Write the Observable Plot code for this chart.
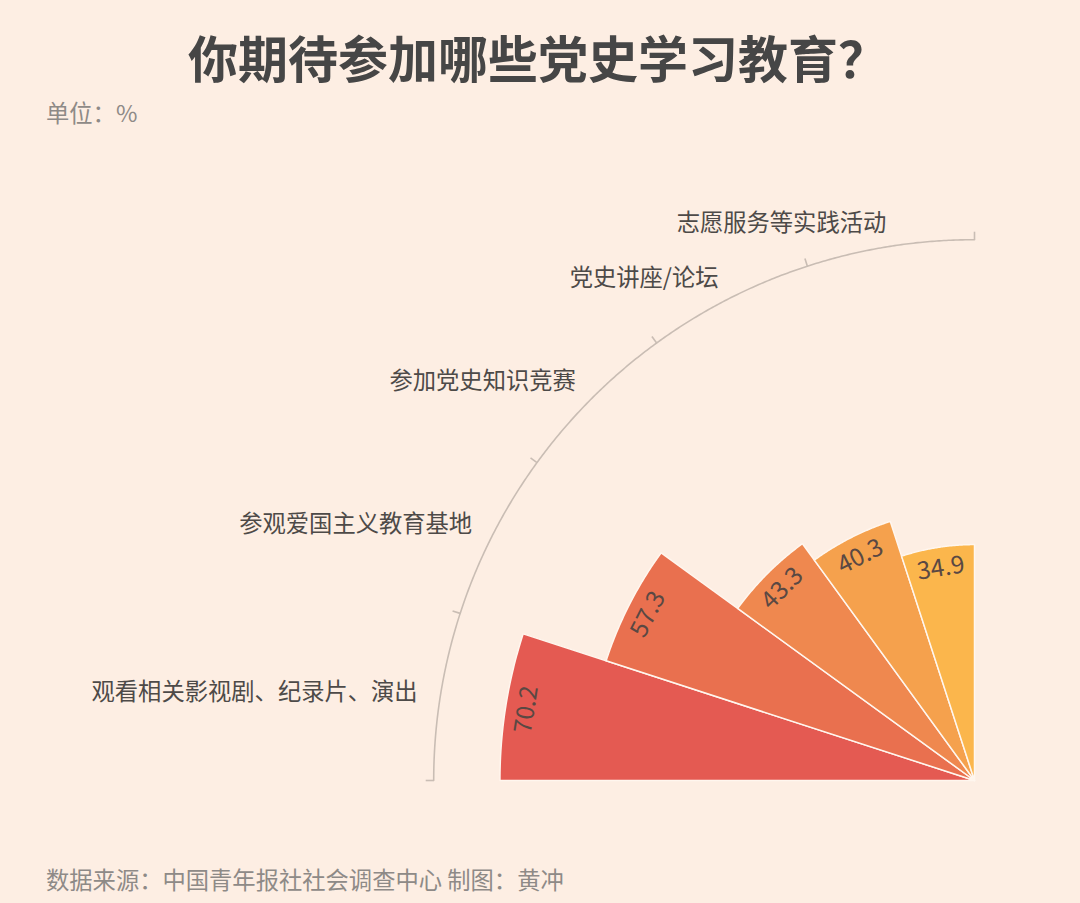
<!DOCTYPE html>
<html>
<head>
<meta charset="utf-8">
<script src="https://cdn.jsdelivr.net/npm/d3@7"></script>
<script src="https://cdn.jsdelivr.net/npm/@observablehq/plot@0.6"></script>
<style>
  html, body { margin: 0; padding: 0; background: #fdeee3; }
  #page { position: relative; width: 1080px; height: 903px; background: #fdeee3; overflow: hidden;
          font-family: "Noto Sans CJK SC", "Noto Sans", sans-serif; }
  #title { position: absolute; left: 188px; top: 31px; font-size: 50px; line-height: 50px; font-weight: 700; color: #464646; white-space: nowrap; }
  #unit { position: absolute; left: 46px; top: 101px; font-size: 23.3px; line-height: 23px; color: #8e8a87; white-space: nowrap; }
  #chart { position: absolute; left: 0; top: 130px; }
  #source { position: absolute; left: 46px; top: 868px; font-size: 23.3px; line-height: 23px; color: #8e8a87; white-space: nowrap; }
</style>
</head>
<body>
<div id="page">
  <div id="title">你期待参加哪些党史学习教育？</div>
  <div id="unit">单位：%</div>
  <div id="chart"></div>
  <div id="source">数据来源：中国青年报社社会调查中心 制图：黄冲</div>
</div>
<script>
// ---- data ----
const categories = ["观看相关影视剧、纪录片、演出", "参观爱国主义教育基地", "参加党史知识竞赛", "党史讲座/论坛", "志愿服务等实践活动"];
const values = [70.2, 57.3, 43.3, 40.3, 34.9];
const colors = ["#e45a52", "#e9704f", "#ef884f", "#f5a14d", "#fbb64c"];
const radialMax = 80;

// ---- layout ----
const W = 1080, H = 700;
const cx = 974, cy = 650;   // polar centre in SVG pixels
const k = 6.76;             // px per percentage unit
const span = 90 / categories.length;

const pt = (r, deg) => [-r * Math.cos(deg * Math.PI / 180), r * Math.sin(deg * Math.PI / 180)];

// sector polygons built from the values
const sectorPts = [];
categories.forEach((c, i) => {
  const a0 = i * span, a1 = (i + 1) * span, v = values[i];
  sectorPts.push({cat: c, x: 0, y: 0});
  for (let a = a0; a <= a1 + 1e-9; a += 0.25) {
    const [x, y] = pt(v, a);
    sectorPts.push({cat: c, x, y});
  }
  sectorPts.push({cat: c, x: 0, y: 0});
});

// outer axis arc
const arcPts = d3.range(0, 90.001, 0.25).map(a => { const [x, y] = pt(radialMax, a); return {x, y}; });
const tickAngles = d3.range(0, 90.001, span);
const tickLen = 8 / k;
const ticks = tickAngles.map(a => {
  const [x1, y1] = pt(radialMax, a), [x2, y2] = pt(radialMax + tickLen, a);
  return {x1, y1, x2, y2};
});

const rows = categories.map((c, i) => {
  const mid = (i + 0.5) * span;
  const [lx, ly] = pt(83.4, mid);
  const [vx, vy] = pt(values[i] - 3.1, mid);
  return {cat: c, value: values[i], mid, lx, ly, vx, vy};
});

const chart = Plot.plot({
  width: W,
  height: H,
  margin: 0,
  style: {background: "transparent", fontFamily: "'Noto Sans CJK SC', 'Noto Sans', sans-serif", overflow: "visible"},
  x: {domain: [-radialMax, 0], range: [cx - radialMax * k, cx], axis: null},
  y: {domain: [0, radialMax], range: [cy, cy - radialMax * k], axis: null},
  color: {domain: categories, range: colors},
  marks: [
    Plot.line(arcPts, {x: "x", y: "y", stroke: "#c9bdb4", strokeWidth: 1.6}),
    Plot.link(ticks, {x1: "x1", y1: "y1", x2: "x2", y2: "y2", stroke: "#c9bdb4", strokeWidth: 1.6}),
    Plot.line(sectorPts, {x: "x", y: "y", z: "cat", fill: "cat", stroke: "#fff6ee", strokeWidth: 1.5, strokeLinejoin: "round"}),
    Plot.text(rows, {x: "vx", y: "vy", text: d => d.value.toFixed(1), rotate: d => -(90 - d.mid), fontSize: 24.5, fill: "#5a4843"}),
    Plot.text(rows, {x: "lx", y: "ly", text: "cat", textAnchor: "end", fontSize: 23.3, fill: "#4d4a48"})
  ]
});
document.getElementById("chart").appendChild(chart);
</script>
</body>
</html>
